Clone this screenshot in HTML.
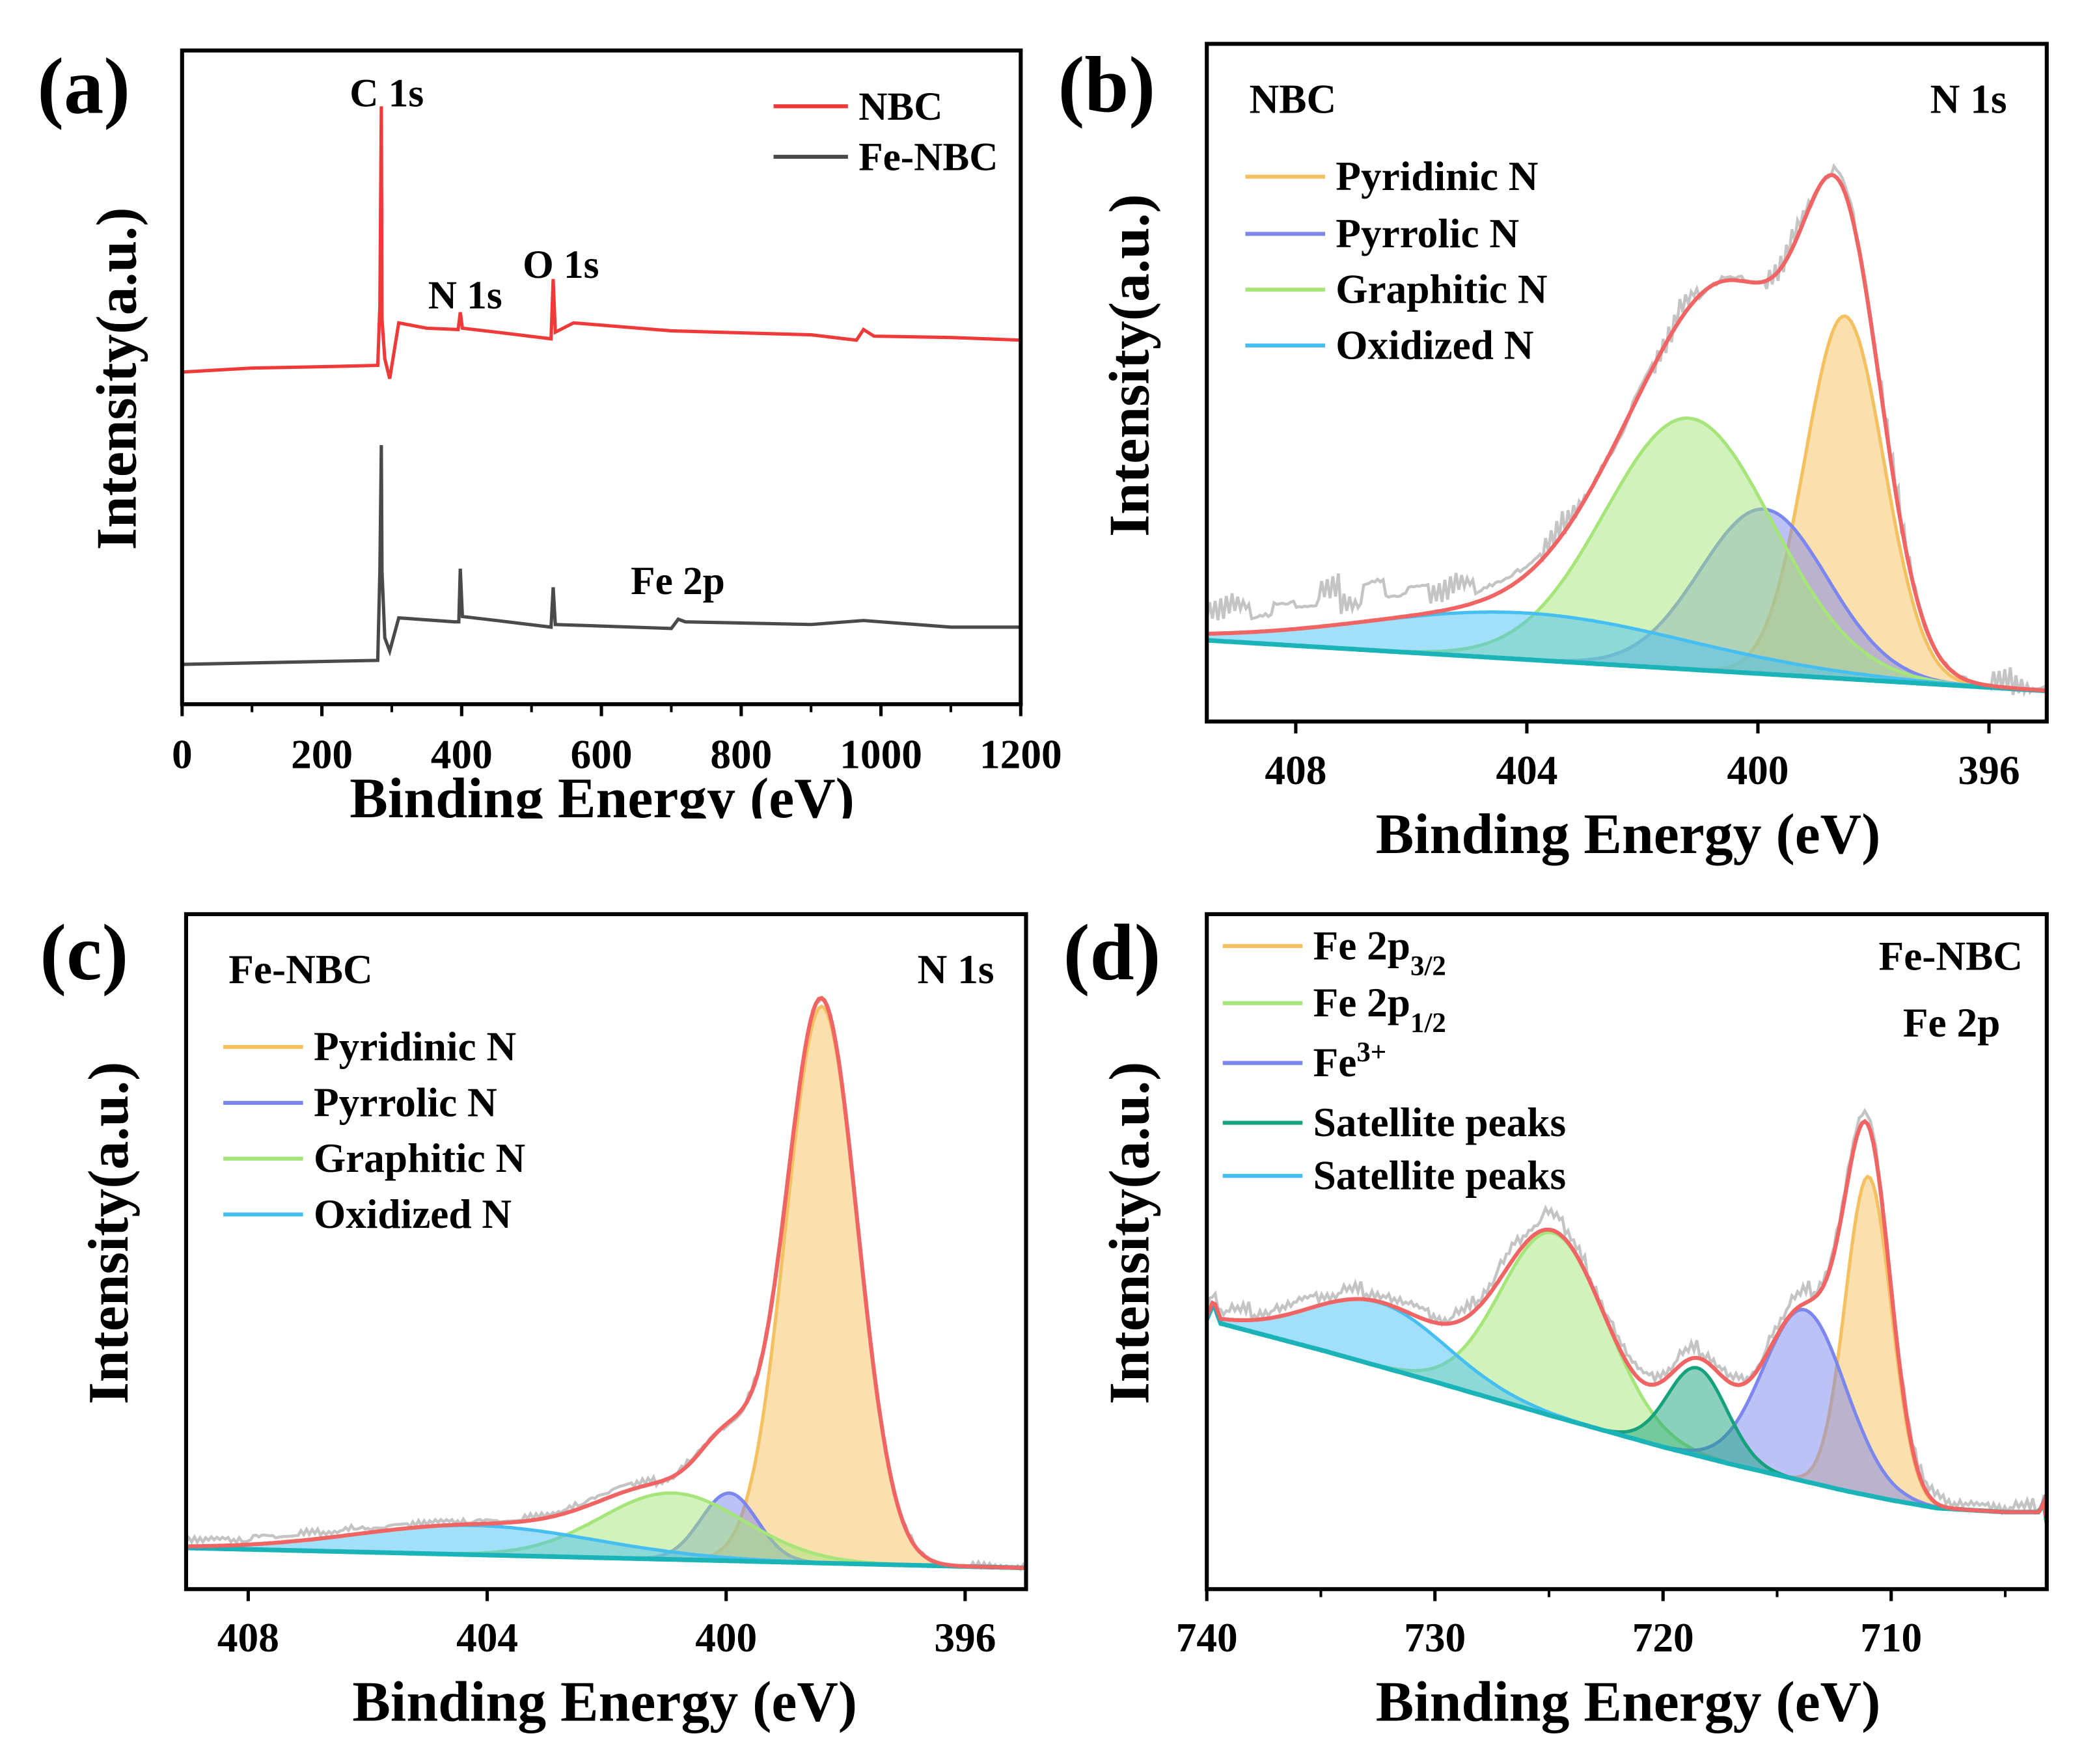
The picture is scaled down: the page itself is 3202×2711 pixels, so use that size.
<!DOCTYPE html>
<html><head><meta charset="utf-8">
<style>
html,body{margin:0;padding:0;background:#fff;}
svg{display:block;}
text{font-family:"Liberation Serif",serif;font-weight:bold;fill:#000;}
</style></head>
<body>
<svg id="fig" width="3202" height="2711" viewBox="0 0 1568 1327.6" xmlns="http://www.w3.org/2000/svg">
<rect width="1568" height="1328" fill="#fff"/>
<g id="pa"></g>
<g id="pb"></g>
<g id="pc"></g>
<g id="pd"></g>
</svg>
<script>
// ---------- Panel (a) survey data ----------
const aTicks = [0,200,400,600,800,1000,1200];
const aNBC = [[0,250],[100,253],[200,254],[280,255],[283,300],[285,450],[286,290],[290,260],[297,245],[310,287],[350,283],[395,282],[398,295],[401,283],[450,280],[528,275],[531,320],[534,280],[560,287],[700,281],[900,278],[965,274],[975,282],[990,277],[1100,276],[1200,274]];
const aFeNBC = [[0,30],[280,33],[283,100],[285,195],[286,100],[290,50],[297,40],[310,65],[390,62],[396,62],[398,102],[401,66],[450,63],[528,58],[531,88],[534,60],[700,57],[710,64],[720,62],[900,60],[975,63],[1100,58],[1200,58]];

// ---------- Panel (b) NBC N1s ----------
const bTicks = [408,404,400,396];
const bBg = [[409.5,61],[395,23]];
const bCenters = [398.5,399.9,401.2,404.0];
const bHeights = [273,124,189,35];
const bSigmas = [0.68,1.1,1.45,2.8];
const bNoise = [40,55,30,60,45,70,35,80,50,60,30,45,20,25,15,10,5,0,-5,10,-10,15,-5,10,0,-8,12,-5,20,-10,5,0,-5,5,-3,4,-2,3,-2,2];

// ---------- Panel (c) Fe-NBC N1s ----------
const cTicks = [408,404,400,396];
const cBg = [[409,31],[395,16]];
const cCenters = [398.4,399.95,400.9,404.2];
const cHeights = [419,51,50,22];
const cSigmas = [0.6,0.47,1.2,2.0];
const cNoise = [8,10,6,12,8,10,6,9,5,7,4,6,3,5,2,4,3,6,8,10,5,-3,4,2,-4,3,6,2,-3,0,3,-2,2,0,-1,1,0,0,0,0];

// ---------- Panel (d) Fe 2p ----------
const dTicks = [740,730,720,710];
const dMinor = [735,725,715,705];
const dBg = [[740,203],[739.7,215],[739.4,200],[735,180],[730,156],[725,131],[720,107],[717,94],[715,86],[712,74],[710,67],[708,61],[705,58],[703.5,58],[703.3,66],[703.2,50]];
const dCenters = [711.0,724.8,713.8,718.5,732.5];
const dHeights = [240,138,129,66,48];
const dSigmas = [1.0,2.3,1.8,1.3,3.0];
const dNoise = [10,15,5,12,18,8,14,6,10,16,4,12,8,20,12,25,10,4,12,16,8,14,6,10,4,12,18,6,10,14,4,8,12,6,10,4,8,2,6,4];

const NS="http://www.w3.org/2000/svg";
function el(tag,attrs,parent,txt){const e=document.createElementNS(NS,tag);for(const k in attrs)e.setAttribute(k,attrs[k]);if(txt!==undefined)e.textContent=txt;parent.appendChild(e);return e;}
function interp(pts,x){const p=pts.slice().sort((a,b)=>a[0]-b[0]);if(x<=p[0][0])return p[0][1];for(let i=1;i<p.length;i++){if(x<=p[i][0]){const t=(x-p[i-1][0])/(p[i][0]-p[i-1][0]);return p[i-1][1]+t*(p[i][1]-p[i-1][1]);}}return p[p.length-1][1];}
function gauss(x,c,h,s){return h*Math.exp(-((x-c)*(x-c))/(2*s*s));}

function frame(g,x0,y0,x1,y1,name){
  const r=el('rect',{x:x0,y:y0,width:x1-x0,height:y1-y0,fill:'none',stroke:'#000','stroke-width':3},g);
  
}
function ticks(g,xs,ticks,minor,y1,labY){
  ticks.forEach(t=>{const X=xs(t);el('line',{x1:X,x2:X,y1:y1,y2:y1+9,stroke:'#000','stroke-width':2.5},g);
    const tx=el('text',{x:X,y:labY,'text-anchor':'middle','font-size':31},g,String(t));
    });
  minor.forEach(t=>{const X=xs(t);el('line',{x1:X,x2:X,y1:y1,y2:y1+6,stroke:'#000','stroke-width':2},g);});
}
function labels(g,lab,lx,ly,cx,titleY,yx,yy){
  const a=el('text',{x:lx,y:ly,'font-size':60},g,lab);
  const t=el('text',{x:cx,y:titleY,'text-anchor':'middle','font-size':43},g,'Binding Energy (eV)');
  const y=el('text',{x:0,y:0,'text-anchor':'middle','font-size':43,transform:`translate(${yx},${yy}) rotate(-90)`},g,'Intensity(a.u.)');
  return t;
}
function pathFrom(pts){return pts.map((p,i)=>(i?'L':'M')+p[0].toFixed(1)+','+p[1].toFixed(1)).join('');}

// ----- Panel a -----
(function(){
  const g=document.getElementById('pa');
  const x0=137,x1=768,y0=38,y1=530;
  const xs=v=>x0+(v-0)/1200*(x1-x0), ys=v=>y1-v;
  const cp=el('clipPath',{id:'clipA'},g);el('rect',{x:x0,y:y0,width:x1-x0,height:y1-y0},cp);
  const ct=el('clipPath',{id:'clipAT'},g);el('rect',{x:0,y:0,width:1568,height:616},ct);
  const pr=el('path',{d:pathFrom(aNBC.map(p=>[xs(p[0]),ys(p[1])])),fill:'none',stroke:'#f03a3a','stroke-width':2.5,'clip-path':'url(#clipA)'},g);
  
  const pg=el('path',{d:pathFrom(aFeNBC.map(p=>[xs(p[0]),ys(p[1])])),fill:'none',stroke:'#4a4a4a','stroke-width':2.5,'clip-path':'url(#clipA)'},g);
  
  frame(g,x0,y0,x1,y1,'panel-a');
  ticks(g,xs,aTicks,[100,300,500,700,900,1100],y1,578);
  const ann=[['C 1s',291,80],['N 1s',350,232],['O 1s',422,209],['Fe 2p',510,447]];
  ann.forEach(a=>{const t=el('text',{x:a[1],y:a[2],'text-anchor':'middle','font-size':30},g,a[0]);});
  const leg=[['NBC','#f03a3a',80],['Fe-NBC','#4a4a4a',118]];
  leg.forEach(l=>{const lg=el('g',{},g);
    el('line',{x1:582,x2:638,y1:l[2],y2:l[2],stroke:l[1],'stroke-width':3},lg);el('text',{x:646,y:l[2]+10,'font-size':30},lg,l[0]);});
  const t=labels(g,'(a)',28,85,453,615,102,285);
  t.setAttribute('clip-path','url(#clipAT)');
})();

// ----- Generic fit panel -----
function fitPanel(id,box,dom,tks,minor,bg,cen,hei,sig,cols,noise,nAmp,names,txts,legY,legX,lab,mid){
  const g=document.getElementById(id);
  const [x0,y0,x1,y1]=box;
  const xs=v=>x0+(dom[0]-v)/(dom[0]-dom[1])*(x1-x0), ys=v=>y1-v;
  const N=300, xsData=[];
  for(let i=0;i<=N;i++)xsData.push(dom[0]-(dom[0]-dom[1])*i/N);
  const bgv=xsData.map(x=>interp(bg,x));
  const env=xsData.map((x,i)=>bgv[i]+cen.reduce((s,c,k)=>s+gauss(x,c,hei[k],sig[k]),0));
  const raw=env.map((v,i)=>v+noise[i%noise.length]*(i%2?1:-0.5)*0.25*nAmp+noise[Math.floor(i/8)%noise.length]*0.5*nAmp);
  const pr=el('path',{d:pathFrom(xsData.map((x,i)=>[xs(x),ys(raw[i])])),fill:'none',stroke:'#c4c4c4','stroke-width':2.2},g);
  
  cen.forEach((c,k)=>{
    const top=xsData.map((x,i)=>[xs(x),ys(bgv[i]+gauss(x,c,hei[k],sig[k]))]);
    const bot=xsData.map((x,i)=>[xs(x),ys(bgv[i])]).reverse();
    const f=el('path',{d:pathFrom(top.concat(bot))+'Z',fill:cols[k],'fill-opacity':0.5,stroke:'none'},g);
    
    const l=el('path',{d:pathFrom(top),fill:'none',stroke:cols[k],'stroke-width':2.5},g);
    
  });
  const bl=el('path',{d:pathFrom(xsData.map((x,i)=>[xs(x),ys(bgv[i])])),fill:'none',stroke:'#19b3b8','stroke-width':3.5},g);
  
  const el2=el('path',{d:pathFrom(xsData.map((x,i)=>[xs(x),ys(env[i])])),fill:'none',stroke:'#f06464','stroke-width':3},g);
  
  frame(g,x0,y0,x1,y1,id);
  ticks(g,xs,tks,minor,y1,y1+47);
  txts.forEach(t=>{const e=el('text',{x:t[1],y:t[2],'text-anchor':t[3],'font-size':31},g,'');e.innerHTML=t[0];});
  legY.forEach((y,k)=>{const lg=el('g',{},g);
    el('line',{x1:legX,x2:legX+60,y1:y,y2:y,stroke:cols[k],'stroke-width':3},lg);
    const t=el('text',{x:legX+68,y:y+10,'font-size':31},lg,'');t.innerHTML=names[k].label;});
  labels(g,lab,mid[0],mid[1],mid[2],mid[3],mid[4],mid[5]);
}
function nm(s,label){const o=new String(s);o.label=label;return o;}

fitPanel('pb',[908,33,1540,543],[409.54,395.0],bTicks,[],bBg,bCenters,bHeights,bSigmas,
  ['#f5c060','#7b86ee','#a6e57a','#45bff2'],bNoise,0.7,
  [nm('pyridinic-n','Pyridinic N'),nm('pyrrolic-n','Pyrrolic N'),nm('graphitic-n','Graphitic N'),nm('oxidized-n','Oxidized N')],
  [['NBC',940,85,'start'],['N 1s',1510,85,'end']],[133,176,218,260],937,'(b)',[796,84,1225,642,864,275]);

fitPanel('pc',[140,688,772,1196],[409.04,394.98],cTicks,[],cBg,cCenters,cHeights,cSigmas,
  ['#f5c060','#7b86ee','#a6e57a','#45bff2'],cNoise,1,
  [nm('pyridinic-n','Pyridinic N'),nm('pyrrolic-n','Pyrrolic N'),nm('graphitic-n','Graphitic N'),nm('oxidized-n','Oxidized N')],
  [['Fe-NBC',172,740,'start'],['N 1s',748,740,'end']],[788,830,872,914],168,'(c)',[30,737,455,1295,96,928]);

fitPanel('pd',[908,688,1540,1196],[740,703.18],dTicks,dMinor,dBg,dCenters,dHeights,dSigmas,
  ['#f5c060','#a6e57a','#7b86ee','#16a27c','#45bff2'],dNoise,1,
  [nm('fe-2p32','Fe 2p<tspan baseline-shift="sub" font-size="21">3/2</tspan>'),nm('fe-2p12','Fe 2p<tspan baseline-shift="sub" font-size="21">1/2</tspan>'),nm('fe3plus','Fe<tspan baseline-shift="super" font-size="21">3+</tspan>'),nm('satellite-1','Satellite peaks'),nm('satellite-2','Satellite peaks')],
  [['Fe-NBC',1522,730,'end'],['Fe 2p',1505,780,'end']],[712,755,800,845,885],920,'(d)',[800,737,1225,1295,864,928]);
</script>
</body></html>
